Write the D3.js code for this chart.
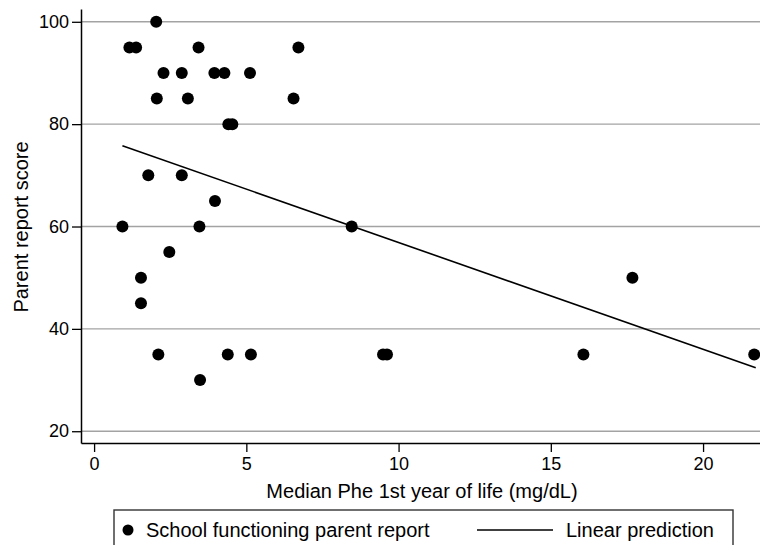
<!DOCTYPE html>
<html>
<head>
<meta charset="utf-8">
<script src="https://cdn.jsdelivr.net/npm/d3@7"></script>
<style>
  html, body { margin: 0; padding: 0; background: #fff; }
  svg { display: block; font-family: "Liberation Sans", Arial, Helvetica, sans-serif; }
</style>
</head>
<body>
<svg id="chart" width="760" height="545"></svg>
<script>
// Data
const pheX = [2.04, 1.16, 1.38, 3.43, 6.71, 2.28, 2.88, 3.95, 4.28, 5.12, 2.06, 3.08, 6.55, 4.41, 4.54,
              1.78, 2.88, 3.97, 0.93, 3.46, 8.46, 2.47, 1.54, 1.54, 2.11, 3.48, 4.39, 5.15, 9.49, 9.62,
              16.07, 17.68, 21.68];
const scoreY = [100, 95, 95, 95, 95, 90, 90, 90, 90, 90, 85, 85, 85, 80, 80,
                70, 70, 65, 60, 60, 60, 55, 50, 45, 35, 30, 35, 35, 35, 35,
                35, 50, 35];
const fitX = [0.93, 21.73];
const fitY = [75.8, 32.4];
const xTicks = [0, 5, 10, 15, 20];
const yTicks = [20, 40, 60, 80, 100];
const xTitle = "Median Phe 1st year of life (mg/dL)";
const yTitle = "Parent report score";
const legendLabels = ["School functioning parent report", "Linear prediction"];

const svg = d3.select("#chart");
const x = d3.scaleLinear().domain([-0.43, 21.87]).range([81, 760]);
const y = d3.scaleLinear().domain([17.7, 102.5]).range([443, 9]);

// gridlines
svg.append("g").selectAll("line").data(yTicks).join("line")
  .attr("x1", 81).attr("x2", 760)
  .attr("y1", d => y(d)).attr("y2", d => y(d))
  .attr("stroke", "#a3a3a3").attr("stroke-width", 1.4);

// axes
const yAxis = svg.append("g").attr("transform", "translate(81,0)")
  .call(d3.axisLeft(y).tickValues(yTicks).tickSize(9).tickPadding(3).tickSizeOuter(0));
const xAxis = svg.append("g").attr("transform", "translate(0,443)")
  .call(d3.axisBottom(x).tickValues(xTicks).tickSize(9).tickPadding(5).tickSizeOuter(0));
[xAxis, yAxis].forEach(a => {
  a.select(".domain").attr("stroke", "#000").attr("stroke-width", 1.5);
  a.selectAll(".tick line").attr("stroke", "#000").attr("stroke-width", 1.3);
  a.selectAll(".tick text").attr("fill", "#000").style("font-size", "18px")
    .style("font-family", "'Liberation Sans', Arial, sans-serif");
});

// regression line
svg.append("path")
  .datum(fitX.map((d, i) => [d, fitY[i]]))
  .attr("d", d3.line().x(d => x(d[0])).y(d => y(d[1])))
  .attr("fill", "none").attr("stroke", "#000").attr("stroke-width", 1.6);

// points
svg.append("g").selectAll("circle").data(pheX.map((d, i) => [d, scoreY[i]])).join("circle")
  .attr("cx", d => x(d[0])).attr("cy", d => y(d[1])).attr("r", 6)
  .attr("fill", "#000");

// axis titles
svg.append("text").attr("x", 422).attr("y", 498).attr("text-anchor", "middle")
  .style("font-size", "20px").attr("fill", "#000").text(xTitle);
svg.append("text").attr("transform", "translate(28,227) rotate(-90)").attr("text-anchor", "middle")
  .style("font-size", "20px").attr("fill", "#000").text(yTitle);

// legend
const lg = svg.append("g");
lg.append("rect").attr("x", 114).attr("y", 510).attr("width", 619).attr("height", 60)
  .attr("fill", "#fff").attr("stroke", "#333").attr("stroke-width", 1.4);
lg.append("circle").attr("cx", 128).attr("cy", 530).attr("r", 5.5).attr("fill", "#000");
lg.append("text").attr("x", 146).attr("y", 537).style("font-size", "20px").attr("fill", "#000")
  .text(legendLabels[0]);
lg.append("line").attr("x1", 477).attr("x2", 553).attr("y1", 530).attr("y2", 530)
  .attr("stroke", "#000").attr("stroke-width", 1.6);
lg.append("text").attr("x", 566).attr("y", 537).style("font-size", "20px").attr("fill", "#000")
  .text(legendLabels[1]);
</script>
</body>
</html>
